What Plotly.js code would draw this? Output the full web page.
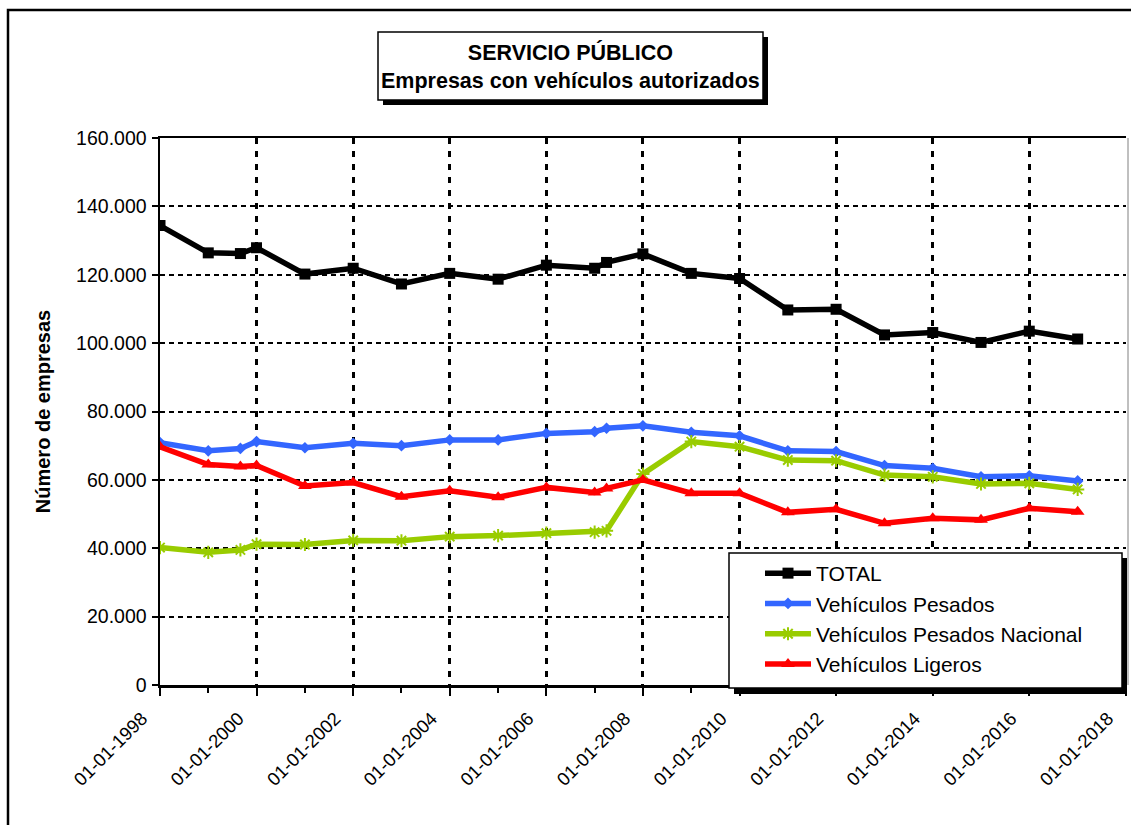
<!DOCTYPE html>
<html>
<head>
<meta charset="utf-8">
<script src="https://cdn.plot.ly/plotly-3.0.1.min.js"></script>
<style>
  html, body { margin: 0; padding: 0; background: #ffffff; }
  #chart { width: 1131px; height: 825px; }
</style>
</head>
<body>
<div id="chart"></div>
<script>
// ---- Data ----
var dates = ["1998-01-01","1999-01-01","1999-09-01","2000-01-01","2001-01-01","2002-01-01",
             "2003-01-01","2004-01-01","2005-01-01","2006-01-01","2007-01-01","2007-04-01",
             "2008-01-01","2009-01-01","2010-01-01","2011-01-01","2012-01-01","2013-01-01",
             "2014-01-01","2015-01-01","2016-01-01","2017-01-01"];
var total    = [134400,126400,126200,127900,120200,121900,117300,120400,118700,122800,121900,123600,
                126100,120400,118900,109700,109900,102400,103100,100200,103500,101200];
var pesados  = [70900,68500,69200,71200,69400,70700,70000,71700,71700,73600,74100,75100,
                75800,73900,72900,68500,68300,64200,63400,60900,61200,59700];
var nacional = [40200,38800,39500,41200,41100,42300,42200,43400,43700,44400,44700,45100,
                61700,71200,69700,65800,65600,61400,60900,58800,59000,57200];
var ligeros  = [69700,64500,63900,64200,58200,59200,55100,56800,54900,57800,56300,57500,
                60000,56100,56100,50500,51400,47300,48800,48300,51700,50700];
var seriesNames = ["TOTAL","Vehículos Pesados","Vehículos Pesados Nacional","Vehículos Ligeros"];
var titleLines = ["SERVICIO PÚBLICO","Empresas con vehículos autorizados"];
var yTitle = "Número de empresas";
var xRange = ["1998-01-01","2018-01-01 12:00"];
var yRange = [0,160000];

// ---- Geometry helpers (pixel -> paper) ----
var W = 1131, H = 825;
var M = {l:160, r:5, t:138, b:140};
var PW = W - M.l - M.r, PH = H - M.t - M.b;
function px(x){ return (x - M.l) / PW; }
function py(y){ return (H - M.b - y) / PH; }

var FONT = "Liberation Sans, Arial, Helvetica, sans-serif";

var traces = [
  {x: dates, y: total, name: seriesNames[0], type: "scatter", mode: "lines+markers",
   line: {color: "#000000", width: 5.5},
   marker: {symbol: "square", size: 11, color: "#000000"}},
  {x: dates, y: pesados, name: seriesNames[1], type: "scatter", mode: "lines+markers",
   line: {color: "#3366FF", width: 5.5},
   marker: {symbol: "diamond", size: 9, color: "#3366FF"}},
  {x: dates, y: nacional, name: seriesNames[2], type: "scatter", mode: "lines+markers",
   line: {color: "#99CC00", width: 5.5},
   marker: {symbol: "asterisk-open", size: 11, color: "#99CC00", line: {color: "#99CC00", width: 2}}},
  {x: dates, y: ligeros, name: seriesNames[3], type: "scatter", mode: "lines+markers",
   line: {color: "#FF0000", width: 5.5},
   marker: {symbol: "triangle-up", size: 12, color: "#FF0000"}}
];

var shapes = [
  // outer chart frame
  {type: "rect", xref: "paper", yref: "paper", x0: px(8), x1: px(1160), y0: py(10), y1: py(860),
   line: {color: "#000000", width: 2.5}, fillcolor: "rgba(0,0,0,0)", layer: "below"},
  // thin right plot border
  {type: "line", xref: "paper", yref: "paper", x0: px(1128), x1: px(1128), y0: py(138), y1: py(685),
   line: {color: "#808080", width: 1}, layer: "below"},
  // title box shadow + box
  {type: "rect", xref: "paper", yref: "paper", x0: px(383), x1: px(768), y0: py(37), y1: py(105),
   line: {width: 0}, fillcolor: "#000000", layer: "above"},
  {type: "rect", xref: "paper", yref: "paper", x0: px(378), x1: px(763), y0: py(32), y1: py(100),
   line: {color: "#000000", width: 1.5}, fillcolor: "#ffffff", layer: "above"},
  // legend box shadow + box
  {type: "rect", xref: "paper", yref: "paper", x0: px(734), x1: px(1127), y0: py(558), y1: py(694),
   line: {width: 0}, fillcolor: "#000000", layer: "above"},
  {type: "rect", xref: "paper", yref: "paper", x0: px(729), x1: px(1122), y0: py(553), y1: py(688),
   line: {color: "#000000", width: 1.5}, fillcolor: "#ffffff", layer: "above"}
];

var layout = {
  width: W, height: H,
  margin: M,
  paper_bgcolor: "#ffffff",
  plot_bgcolor: "#ffffff",
  separators: ",.",
  font: {family: FONT, size: 18, color: "#000000"},
  showlegend: true,
  legend: {
    x: px(760), y: py(553), xanchor: "left", yanchor: "top",
    bgcolor: "rgba(0,0,0,0)", borderwidth: 0,
    font: {family: FONT, size: 21, color: "#000000"},
    itemwidth: 46, tracegroupgap: 0
  },
  xaxis: {
    type: "date",
    range: xRange,
    tick0: "1998-01-01",
    dtick: "M24",
    tickformat: "%d-%m-%Y",
    tickangle: -45,
    tickfont: {family: FONT, size: 18.5, color: "#000000"},
    ticks: "outside", ticklen: 8, tickwidth: 2, tickcolor: "#000000",
    ticklabelshift: -18, ticklabelstandoff: 5,
    minor: {dtick: "M12", ticks: "outside", ticklen: 5, tickwidth: 2, tickcolor: "#000000", showgrid: false},
    showline: true, linecolor: "#000000", linewidth: 2.5, mirror: true,
    showgrid: true, gridcolor: "#000000", gridwidth: 3, griddash: "6px,7px",
    zeroline: false,
    fixedrange: true
  },
  yaxis: {
    range: yRange,
    dtick: 20000,
    tickformat: ",d",
    tickfont: {family: FONT, size: 19.5, color: "#000000"},
    ticks: "outside", ticklen: 6, tickwidth: 2, tickcolor: "#000000",
    ticklabelstandoff: 1,
    showline: true, linecolor: "#000000", linewidth: 2.5,
    showgrid: true, gridcolor: "#000000", gridwidth: 2, griddash: "5px,4px",
    zeroline: false,
    title: {text: yTitle, font: {family: FONT, size: 20, color: "#000000", weight: "bold"}, standoff: 20},
    fixedrange: true
  },
  shapes: shapes,
  annotations: [
    {xref: "paper", yref: "paper", x: px(570.5), y: py(66), xanchor: "center", yanchor: "middle",
     text: "<b>" + titleLines[0] + "</b><br><b>" + titleLines[1] + "</b>",
     showarrow: false, align: "center",
     font: {family: FONT, size: 21.5, color: "#000000"}}
  ]
};

Plotly.newPlot("chart", traces, layout, {staticPlot: true, displayModeBar: false});
</script>
</body>
</html>
